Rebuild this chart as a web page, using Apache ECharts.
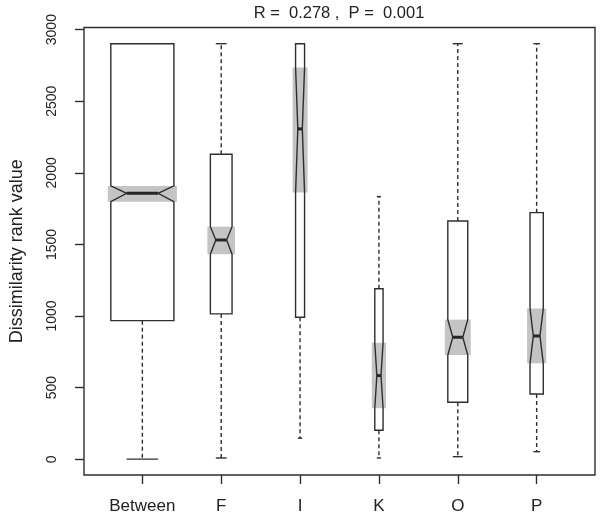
<!DOCTYPE html>
<html>
<head>
<meta charset="utf-8">
<script src="https://cdn.jsdelivr.net/npm/echarts@6/dist/echarts.min.js"></script>
<style>html,body{margin:0;padding:0;background:#fff;}#c{width:601px;height:519px;}</style>
</head>
<body>
<div id="c"></div>
<script>
// ---- data ----
var categories   = ['Between', 'F', 'I', 'K', 'O', 'P'];
var whiskerLow   = [1, 9, 147, 9, 18, 53];
var q1           = [968, 1015, 992, 202, 398, 456];
var median       = [1857, 1531, 2307, 584, 852, 861];
var q3           = [2902, 2130, 2902, 1191, 1664, 1722];
var whiskerHigh  = [2902, 2902, 2902, 1834, 2902, 2902];
var notchLow     = [1799, 1432, 1862, 356, 728, 670];
var notchHigh    = [1909, 1624, 2735, 814, 975, 1052];
var relWidth     = [0.80, 0.275, 0.114, 0.105, 0.253, 0.168]; // varwidth (sqrt n)
var outliers     = [[4, 2902]]; // [category position, value]
var yTicks       = [0, 500, 1000, 1500, 2000, 2500, 3000];
var xTicks       = [1, 2, 3, 4, 5, 6];
var titleText    = 'R =  0.278 ,  P =  0.001';
var yTitle       = 'Dissimilarity rank value';

var FONT = '"Liberation Sans", Arial, Helvetica, sans-serif';
var LINE = '#2e2e2e';
var GREY = '#c4c4c4';

var boxData = categories.map(function (c, i) {
  return [i + 1, whiskerLow[i], q1[i], median[i], q3[i], whiskerHigh[i], notchLow[i], notchHigh[i], relWidth[i]];
});

function renderBox(params, api) {
  var x = api.value(0);
  var wl = api.value(1), b1 = api.value(2), md = api.value(3), b3 = api.value(4), wh = api.value(5);
  var nl = api.value(6), nh = api.value(7), rw = api.value(8);
  var cx = api.coord([x, md])[0];
  var Y = function (v) { return api.coord([x, v])[1]; };
  var hw = api.size([rw, 0])[0] / 2;
  var yq1 = Y(b1), yq3 = Y(b3), ymd = Y(md), ynl = Y(nl), ynh = Y(nh), ywl = Y(wl), ywh = Y(wh);
  var pts = [
    [cx - hw, yq1], [cx - hw, ynl], [cx - hw / 2, ymd], [cx - hw, ynh], [cx - hw, yq3],
    [cx + hw, yq3], [cx + hw, ynh], [cx + hw / 2, ymd], [cx + hw, ynl], [cx + hw, yq1]
  ];
  var pad = 3;
  return {
    type: 'group',
    children: [
      { type: 'line', shape: { x1: cx, y1: yq3, x2: cx, y2: ywh }, style: { stroke: LINE, lineWidth: 1.4, lineDash: [4, 3] } },
      { type: 'line', shape: { x1: cx, y1: yq1, x2: cx, y2: ywl }, style: { stroke: LINE, lineWidth: 1.4, lineDash: [4, 3] } },
      { type: 'line', shape: { x1: cx - hw / 2, y1: ywh, x2: cx + hw / 2, y2: ywh }, style: { stroke: LINE, lineWidth: 1.4 } },
      { type: 'line', shape: { x1: cx - hw / 2, y1: ywl, x2: cx + hw / 2, y2: ywl }, style: { stroke: LINE, lineWidth: 1.4 } },
      { type: 'polygon', shape: { points: pts }, style: { fill: '#fff', stroke: null } },
      { type: 'rect', shape: { x: cx - hw - pad, y: ynh, width: 2 * hw + 2 * pad, height: ynl - ynh }, style: { fill: GREY } },
      { type: 'polygon', shape: { points: pts }, style: { fill: null, stroke: LINE, lineWidth: 1.4 } },
      { type: 'line', shape: { x1: cx - hw / 2, y1: ymd, x2: cx + hw / 2, y2: ymd }, style: { stroke: '#262626', lineWidth: 3 } }
    ]
  };
}

var chart = echarts.init(document.getElementById('c'), null, { renderer: 'canvas' });
chart.setOption({
  animation: false,
  backgroundColor: '#fff',
  grid: { left: 83, right: 6, top: 27.5, bottom: 44, show: true, borderColor: LINE, borderWidth: 1.4, backgroundColor: 'transparent' },
  graphic: [
    { type: 'text', x: 339, y: 13, style: { text: titleText, textAlign: 'center', textVerticalAlign: 'middle', font: '16.5px ' + FONT, fill: '#222' } }
  ],
  xAxis: {
    type: 'value', min: 0.26, max: 6.74, position: 'bottom',
    splitLine: { show: false },
    axisLine: { show: false, onZero: false },
    axisTick: { show: true, inside: false, length: 9, customValues: xTicks, lineStyle: { color: LINE, width: 1.4 } },
    axisLabel: { customValues: xTicks, formatter: function (v) { return categories[Math.round(v) - 1] || ''; }, fontSize: 17, fontFamily: FONT, color: '#222', margin: 23 }
  },
  yAxis: {
    type: 'value', min: -110, max: 3015, position: 'left',
    name: yTitle, nameLocation: 'middle', nameGap: 58, nameRotate: 90,
    nameTextStyle: { fontSize: 18, fontFamily: FONT, color: '#222' },
    splitLine: { show: false },
    axisLine: { show: false, onZero: false },
    axisTick: { show: true, inside: false, length: 9, customValues: yTicks, lineStyle: { color: LINE, width: 1.4 } },
    axisLabel: { customValues: yTicks, formatter: function (v) { return String(v); }, rotate: 90, fontSize: 14, fontFamily: FONT, color: '#222', margin: 25 }
  },
  series: [
    {
      type: 'custom', renderItem: renderBox, data: boxData,
      encode: { x: 0, y: [1, 2, 3, 4, 5] }, clip: false
    },
    {
      type: 'scatter', data: outliers, symbol: 'emptyCircle', symbolSize: 7,
      itemStyle: { color: '#fff', borderColor: LINE, borderWidth: 1.4 }
    }
  ]
});
</script>
</body>
</html>
